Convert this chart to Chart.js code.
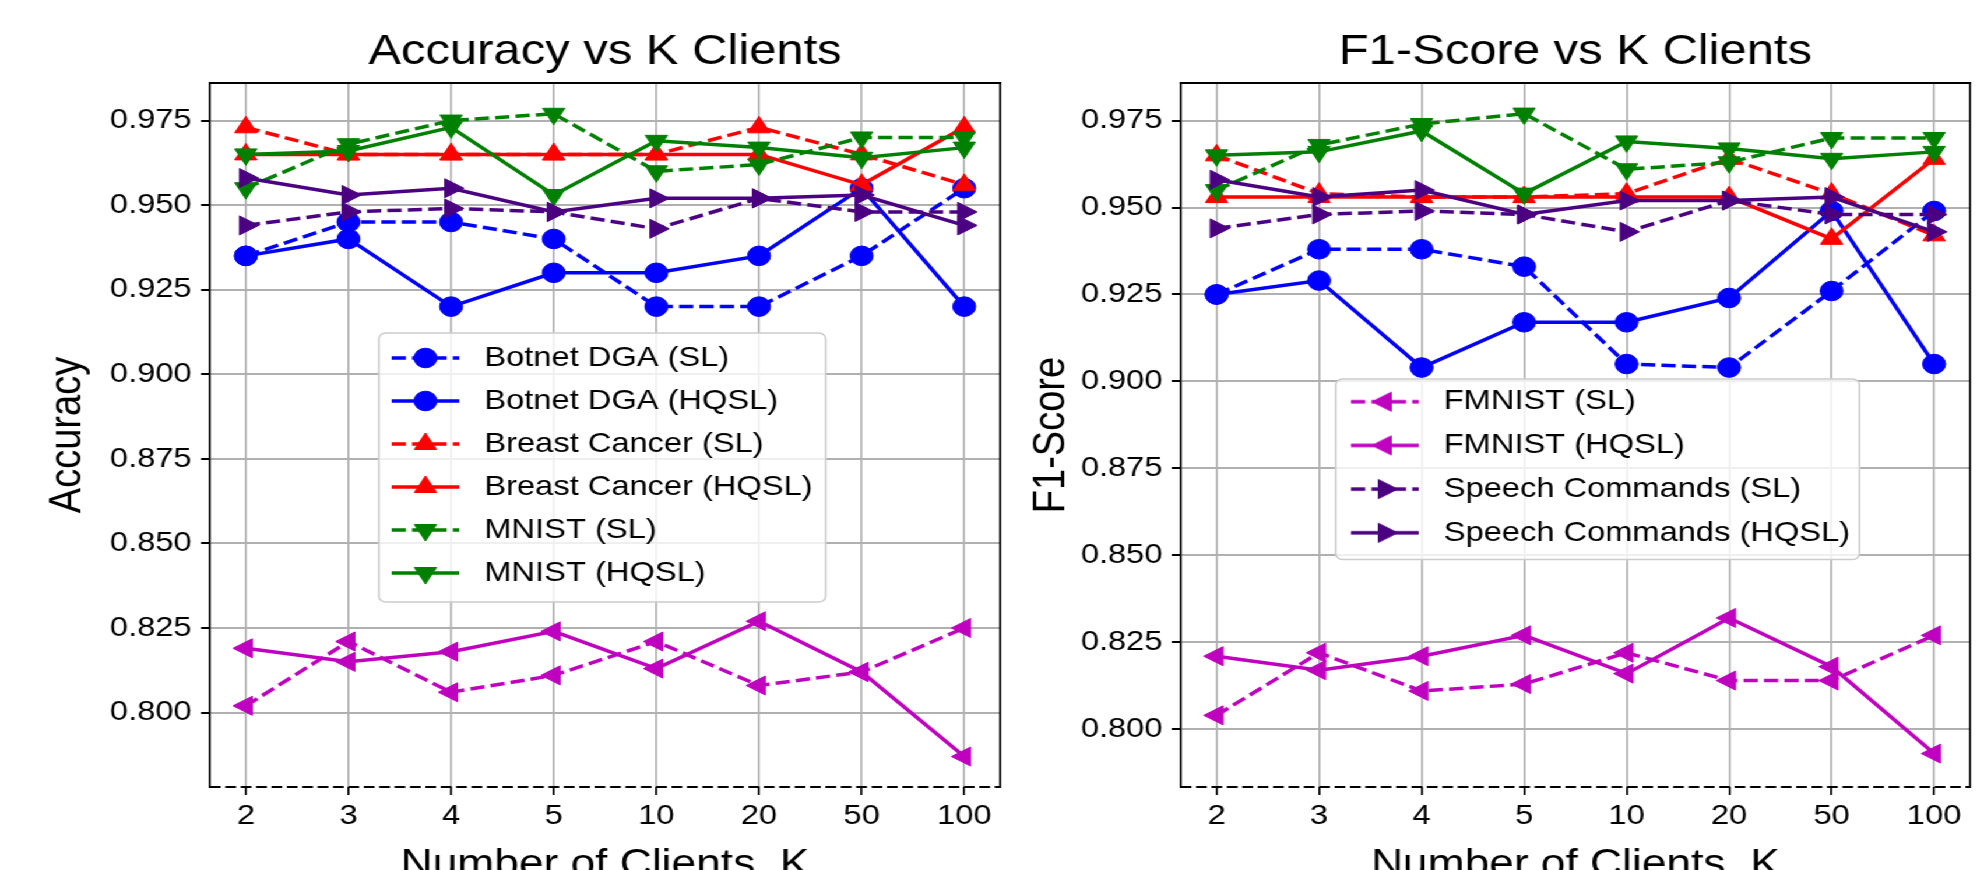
<!DOCTYPE html>
<html>
<head>
<meta charset="utf-8">
<script src="https://cdn.jsdelivr.net/npm/chart.js@4.4.1/dist/chart.umd.min.js"></script>
<style>
  html, body { margin: 0; padding: 0; background: #fff; overflow: hidden; }
  /* the reference figure is stretched horizontally, so draw narrower and stretch */
  #stage { position: absolute; left: 0; top: 0; width: 1702px; height: 870px; transform: scaleX(1.1657); transform-origin: 0 0; }
  #accCanvas { position: absolute; left: 0; top: 0; }
  #f1Canvas { position: absolute; left: 860px; top: 0; }
</style>
</head>
<body>
<div id="stage">
  <canvas id="accCanvas" width="870" height="870"></canvas>
  <canvas id="f1Canvas" width="842" height="870"></canvas>
</div>
<script>
// x categories and y tick labels
const kLabels = ['2', '3', '4', '5', '10', '20', '50', '100'];
const yTickValues = [0.800, 0.825, 0.850, 0.875, 0.900, 0.925, 0.950, 0.975];

// Accuracy
const accBotnetSL   = [0.935, 0.945, 0.945, 0.940, 0.920, 0.920, 0.935, 0.955];
const accBotnetHQSL = [0.935, 0.940, 0.920, 0.930, 0.930, 0.935, 0.955, 0.920];
const accBreastSL   = [0.973, 0.965, 0.965, 0.965, 0.965, 0.973, 0.965, 0.956];
const accBreastHQSL = [0.965, 0.965, 0.965, 0.965, 0.965, 0.965, 0.956, 0.973];
const accMnistSL    = [0.955, 0.968, 0.975, 0.977, 0.960, 0.962, 0.970, 0.970];
const accMnistHQSL  = [0.965, 0.966, 0.973, 0.953, 0.969, 0.967, 0.964, 0.967];
const accFmnistSL   = [0.802, 0.821, 0.806, 0.811, 0.821, 0.808, 0.812, 0.825];
const accFmnistHQSL = [0.819, 0.815, 0.818, 0.824, 0.813, 0.827, 0.812, 0.787];
const accSpeechSL   = [0.944, 0.948, 0.949, 0.948, 0.943, 0.952, 0.948, 0.948];
const accSpeechHQSL = [0.958, 0.953, 0.955, 0.948, 0.952, 0.952, 0.953, 0.944];

// F1-Score
const f1BotnetSL   = [0.925, 0.938, 0.938, 0.933, 0.905, 0.904, 0.926, 0.949];
const f1BotnetHQSL = [0.925, 0.929, 0.904, 0.917, 0.917, 0.924, 0.949, 0.905];
const f1BreastSL   = [0.965, 0.954, 0.953, 0.953, 0.954, 0.964, 0.954, 0.942];
const f1BreastHQSL = [0.953, 0.953, 0.953, 0.953, 0.953, 0.953, 0.941, 0.964];
const f1MnistSL    = [0.955, 0.968, 0.974, 0.977, 0.961, 0.963, 0.970, 0.970];
const f1MnistHQSL  = [0.965, 0.966, 0.972, 0.954, 0.969, 0.967, 0.964, 0.966];
const f1FmnistSL   = [0.804, 0.822, 0.811, 0.813, 0.822, 0.814, 0.814, 0.827];
const f1FmnistHQSL = [0.821, 0.817, 0.821, 0.827, 0.816, 0.832, 0.818, 0.793];
const f1SpeechSL   = [0.944, 0.948, 0.949, 0.948, 0.943, 0.952, 0.948, 0.948];
const f1SpeechHQSL = [0.958, 0.953, 0.955, 0.948, 0.952, 0.952, 0.953, 0.943];

const seriesNames = [
  'Botnet DGA (SL)', 'Botnet DGA (HQSL)',
  'Breast Cancer (SL)', 'Breast Cancer (HQSL)',
  'MNIST (SL)', 'MNIST (HQSL)',
  'FMNIST (SL)', 'FMNIST (HQSL)',
  'Speech Commands (SL)', 'Speech Commands (HQSL)'
];

// look of each series
const seriesLook = [
  { color: '#0000ff', marker: 'circle',   rot: 0,   dashed: true },
  { color: '#0000ff', marker: 'circle',   rot: 0,   dashed: false },
  { color: '#ff0000', marker: 'triangle', rot: 0,   dashed: true },
  { color: '#ff0000', marker: 'triangle', rot: 0,   dashed: false },
  { color: '#008000', marker: 'triangle', rot: 180, dashed: true },
  { color: '#008000', marker: 'triangle', rot: 180, dashed: false },
  { color: '#bf00bf', marker: 'triangle', rot: 270, dashed: true },
  { color: '#bf00bf', marker: 'triangle', rot: 270, dashed: false },
  { color: '#4b0082', marker: 'triangle', rot: 90,  dashed: true },
  { color: '#4b0082', marker: 'triangle', rot: 90,  dashed: false }
];

const FONT = "'Liberation Sans', Arial, sans-serif";
const LINE_W = 3.5;
const DASH = [12.2, 5.3];
Chart.defaults.font.family = FONT;
Chart.defaults.color = '#000';

function markerRadius(look) { return look.marker === 'circle' ? 9.8 : 11; }

function drawMarker(ctx, look, x, y) {
  const r = markerRadius(look);
  ctx.beginPath();
  if (look.marker === 'circle') {
    ctx.arc(x, y, r, 0, Math.PI * 2);
  } else {
    let a = look.rot * Math.PI / 180;
    for (let k = 0; k < 3; k++) {
      const px = x + Math.sin(a) * r, py = y - Math.cos(a) * r;
      if (k === 0) ctx.moveTo(px, py); else ctx.lineTo(px, py);
      a += 2 * Math.PI / 3;
    }
    ctx.closePath();
  }
  ctx.fill();
  ctx.stroke();
}

// legend handle: short line with the marker in the middle
function makeHandle(look) {
  const c = document.createElement('canvas');
  c.width = 58; c.height = 26;
  const ctx = c.getContext('2d');
  ctx.strokeStyle = look.color;
  ctx.fillStyle = look.color;
  ctx.lineWidth = LINE_W;
  ctx.setLineDash(look.dashed ? DASH : []);
  ctx.beginPath(); ctx.moveTo(0, 13); ctx.lineTo(58, 13); ctx.stroke();
  ctx.setLineDash([]);
  ctx.lineWidth = 1;
  drawMarker(ctx, look, 29, 13);
  return c;
}

function buildDatasets(seriesData) {
  return seriesData.map((vals, i) => {
    const look = seriesLook[i];
    return {
      label: seriesNames[i],
      data: vals.map((v, j) => ({ x: j, y: v })),
      borderColor: look.color,
      backgroundColor: look.color,
      pointBackgroundColor: look.color,
      pointBorderColor: look.color,
      pointStyle: look.marker,
      pointRotation: look.rot,
      pointRadius: markerRadius(look),
      pointBorderWidth: 1,
      borderWidth: LINE_W,
      borderDash: look.dashed ? DASH : [],
      tension: 0,
      fill: false,
      order: seriesData.length - i   // later series drawn on top
    };
  });
}

// top and right spines solid, bottom spine dashed
const spines = {
  id: 'spines',
  beforeDatasetsDraw(chart) {
    const { ctx, chartArea: a } = chart;
    ctx.save();
    ctx.strokeStyle = '#000';
    ctx.lineWidth = 2;
    ctx.beginPath(); ctx.moveTo(a.left - 1, a.top); ctx.lineTo(a.right + 1, a.top); ctx.stroke();
    ctx.lineWidth = 1.7;
    ctx.beginPath(); ctx.moveTo(a.right, a.top); ctx.lineTo(a.right, a.bottom + 1); ctx.stroke();
    ctx.lineWidth = 2;
    ctx.setLineDash([9.2, 4]);
    ctx.beginPath(); ctx.moveTo(a.left, a.bottom); ctx.lineTo(a.right, a.bottom); ctx.stroke();
    ctx.restore();
  }
};

// legend inside the plot, with a framed box, drawn above the lines
const legendBox = {
  id: 'legendBox',
  beforeLayout(chart, args, o) {
    const lg = chart.legend;
    if (!lg || lg._boxed) return;
    lg._boxed = true;
    lg._layers = () => [{
      z: 1,
      draw() {
        const ctx = chart.ctx, f = o.frame;
        ctx.save();
        ctx.beginPath();
        ctx.roundRect(f.x, f.y, f.w, f.h, 6);
        ctx.fillStyle = 'rgba(255,255,255,0.8)';
        ctx.fill();
        ctx.strokeStyle = '#cccccc';
        ctx.lineWidth = 1.6;
        ctx.stroke();
        ctx.restore();
        lg.draw();
      }
    }];
  },
  afterLayout(chart, args, o) {
    const lg = chart.legend;
    lg.left = o.itemX - o.pad;
    lg.top = o.itemTop - o.pad;
    lg.right = o.frame.x + o.frame.w;
    lg.bottom = o.frame.y + o.frame.h + 20;
    lg.width = lg.right - lg.left;
    lg.height = lg.bottom - lg.top;
  }
};

function makeChart(canvasId, cfg) {
  return new Chart(document.getElementById(canvasId), {
    type: 'line',
    data: { datasets: buildDatasets(cfg.series) },
    options: {
      responsive: false,
      animation: false,
      devicePixelRatio: 1,
      events: [],
      layout: { padding: { left: 0, right: cfg.padRight, top: 0, bottom: 0 } },
      plugins: {
        title: {
          display: true, text: cfg.title, fullSize: false, color: '#000',
          font: { size: 42, weight: 'normal', lineHeight: 1.2 },
          padding: { top: 26.8, bottom: 5.8 }
        },
        legend: {
          display: true,
          position: 'chartArea',
          align: 'start',
          labels: {
            usePointStyle: true,
            pointStyleWidth: 73,
            padding: cfg.legend.pad,
            font: { size: 28 },
            color: '#000',
            generateLabels: (chart) => chart.data.datasets
              .map((ds, i) => ({
                text: ds.label,
                datasetIndex: i,
                fontColor: '#000',
                hidden: false,
                lineWidth: 0,
                rotation: 0,
                pointStyle: makeHandle(seriesLook[i])
              }))
              .filter(it => it.datasetIndex >= cfg.legendFrom && it.datasetIndex < cfg.legendTo)
          }
        },
        tooltip: { enabled: false },
        legendBox: cfg.legend
      },
      scales: {
        x: {
          type: 'linear',
          min: -0.35, max: 7.35,
          afterBuildTicks: s => { s.ticks = kLabels.map((_, i) => ({ value: i })); },
          afterFit: s => { s.height = 83; },
          ticks: { callback: v => kLabels[v], font: { size: 28 }, color: '#000', padding: 4.7, maxRotation: 0, autoSkip: false },
          grid: { color: '#b0b0b0', lineWidth: 1.7, tickLength: 8, tickColor: '#000', tickWidth: 1.7 },
          border: { display: false },
          title: { display: true, text: 'Number of Clients, K', color: '#000', font: { size: 38, lineHeight: 1.2 }, padding: { top: 0, bottom: -18.5 } }
        },
        y: {
          min: cfg.yMin, max: cfg.yMax,
          afterBuildTicks: s => { s.ticks = yTickValues.map(v => ({ value: v })); },
          afterFit: s => { s.width = cfg.yWidth; },
          ticks: { callback: v => v.toFixed(3), font: { size: 28 }, color: '#000', padding: 8 },
          grid: { color: '#b0b0b0', lineWidth: 2, tickLength: 7.7, tickColor: '#000', tickWidth: 2 },
          border: { display: true, color: '#000', width: 1.7 },
          title: { display: true, text: cfg.yTitle, color: '#000', font: { size: 38, lineHeight: 1.2 }, padding: { top: cfg.yTitlePad, bottom: 0 } }
        }
      }
    },
    plugins: [spines, legendBox]
  });
}

makeChart('accCanvas', {
  title: 'Accuracy vs K Clients',
  yTitle: 'Accuracy',
  series: [accBotnetSL, accBotnetHQSL, accBreastSL, accBreastHQSL, accMnistSL, accMnistHQSL,
           accFmnistSL, accFmnistHQSL, accSpeechSL, accSpeechHQSL],
  yMin: 0.778, yMax: 0.9861,
  yWidth: 180.1, yTitlePad: 36, padRight: 10.7,
  legendFrom: 0, legendTo: 6,
  legend: { frame: { x: 325, y: 333, w: 383.4, h: 269 }, itemX: 328.5, itemTop: 344, pad: 15 }
});

makeChart('f1Canvas', {
  title: 'F1-Score vs K Clients',
  yTitle: 'F1-Score',
  series: [f1BotnetSL, f1BotnetHQSL, f1BreastSL, f1BreastHQSL, f1MnistSL, f1MnistHQSL,
           f1FmnistSL, f1FmnistHQSL, f1SpeechSL, f1SpeechHQSL],
  yMin: 0.7834, yMax: 0.9858,
  yWidth: 152.9, yTitlePad: 19.5, padRight: 9.9,
  legendFrom: 6, legendTo: 10,
  legend: { frame: { x: 285.8, y: 379, w: 449.4, h: 180.5 }, itemX: 291.5, itemTop: 387.7, pad: 15.7 }
});
</script>
</body>
</html>
